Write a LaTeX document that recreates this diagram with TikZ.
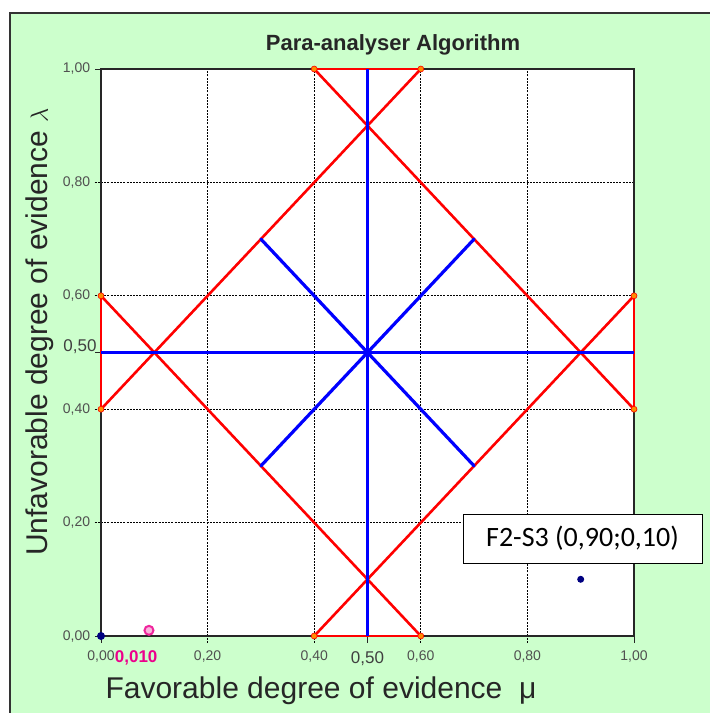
\documentclass[tikz,border=0pt]{standalone}
\usepackage{fontspec}
\setmainfont{Liberation Sans}
\newfontfamily\calibri{Carlito}
\definecolor{bggreen}{RGB}{204,255,204}
\definecolor{ticktxt}{RGB}{80,80,80}
\definecolor{navy}{RGB}{0,0,128}
\definecolor{orangedot}{RGB}{255,140,0}
\tikzset{
  gridline/.style={black, line width=0.9pt, dash pattern=on 2pt off 1.2pt},
  redline/.style={red, line width=2.6pt},
  blueline/.style={blue, line width=2.4pt},
  bluediag/.style={blue, line width=3.2pt},
  enddot/.style={circle, fill=orangedot, draw=red, line width=0.6pt, inner sep=0pt, minimum size=6pt},
  ticklab/.style={font=\fontsize{14}{14}\selectfont, text=ticktxt, inner sep=0pt},
  bigtick/.style={font=\fontsize{17}{17}\selectfont, text=black!75, inner sep=0pt},
  axlab/.style={font=\fontsize{30}{30}\selectfont, text=black!85, inner sep=0pt},
}
\begin{document}
\begin{tikzpicture}[x=1pt, y=-1pt]
\useasboundingbox (0,0) rectangle (710,713);
\fill[white] (0,0) rectangle (710,713);
\fill[bggreen] (9,12) rectangle (710,713);
\draw[black!80, line width=2pt] (10,713) -- (10,13) -- (710,13);
% title
\node[font=\bfseries\fontsize{22}{22}\selectfont, text=black!85] (title) at (393,45) {Para-analyser Algorithm};
\begin{scope}[shift={(101,636)}, x=533pt, y=567pt]
  \fill[white] (0,0) rectangle (1,1);
  % grid
  \foreach \v in {0.2,0.4,0.6,0.8} {
    \draw[gridline] (\v,-0.012) -- (\v,1);
    \draw[gridline] (-0.012,\v) -- (1,\v);
  }
  \draw[black!85, line width=1pt] (0.5,0) -- (0.5,-0.012) (1,0) -- (1,-0.012) (0,0.5) -- (-0.012,0.5) (0,1) -- (-0.012,1) (0,0) -- (-0.012,0) (0,0) -- (0,-0.012);
  \draw[black!85, line width=2.4pt] (0,0) rectangle (1,1);
  % key points
  \coordinate (T4) at (0.4,1);  \coordinate (T6) at (0.6,1);
  \coordinate (B4) at (0.4,0);  \coordinate (B6) at (0.6,0);
  \coordinate (L4) at (0,0.4);  \coordinate (L6) at (0,0.6);
  \coordinate (R4) at (1,0.4);  \coordinate (R6) at (1,0.6);
  \coordinate (T5) at (0.5,1);  \coordinate (B5) at (0.5,0);
  \coordinate (L5) at (0,0.5);  \coordinate (R5) at (1,0.5);
  \coordinate (C)  at (0.5,0.5);
  \coordinate (Q1) at (0.3,0.7); \coordinate (Q2) at (0.7,0.7);
  \coordinate (Q3) at (0.3,0.3); \coordinate (Q4) at (0.7,0.3);
  % red lines
  \draw[redline] (T4) -- (R4);
  \draw[redline] (T6) -- (L4);
  \draw[redline] (L6) -- (B6);
  \draw[redline] (B4) -- (R6);
  \draw[redline] (T4) -- (T6);
  \draw[redline] (B4) -- (B6);
  \draw[redline] (L4) -- (L6);
  \draw[redline] (R4) -- (R6);
  % blue lines
  \draw[blueline] (B5) -- (T5);
  \draw[blueline] (L5) -- (R5);
  \draw[bluediag, line cap=round] (Q1) -- (Q4);
  \draw[bluediag, line cap=round] (Q3) -- (Q2);
  % dots
  \foreach \p in {T4,T6,B4,B6,L4,L6,R4,R6} { \node[enddot] at (\p) {}; }
  \node[circle, fill=navy, inner sep=0pt, minimum size=8pt] (origin) at (0,0) {};
  \node[circle, fill=navy, inner sep=0pt, minimum size=7pt] (f2s3) at (0.9,0.1) {};
  \node[circle, draw=magenta!85, fill=magenta!30, line width=2pt, inner sep=0pt, minimum size=9pt] (mag) at (0.09,0.01) {};
  % x tick labels
  \node[ticklab] (x0) at (0,-0.037) {0,00};
  \node[ticklab] (x2) at (0.2,-0.037) {0,20};
  \node[ticklab] (x4) at (0.4,-0.037) {0,40};
  \node[bigtick] (x5) at (0.5,-0.040) {0,50};
  \node[ticklab] (x6) at (0.6,-0.037) {0,60};
  \node[ticklab] (x8) at (0.8,-0.037) {0,80};
  \node[ticklab] (x10) at (1,-0.037) {1,00};
  \node[font=\bfseries\fontsize{17}{17}\selectfont, text=magenta, inner sep=0pt] (magl) at (0.066,-0.038) {0,010};
  % y tick labels
  \node[ticklab, anchor=east] (y0) at (-0.02,0) {0,00};
  \node[ticklab, anchor=east] (y2) at (-0.02,0.2) {0,20};
  \node[ticklab, anchor=east] (y4) at (-0.02,0.4) {0,40};
  \node[bigtick, anchor=east] (y5) at (-0.008,0.51) {0,50};
  \node[ticklab, anchor=east] (y6) at (-0.02,0.6) {0,60};
  \node[ticklab, anchor=east] (y8) at (-0.02,0.8) {0,80};
  \node[ticklab, anchor=east] (y10) at (-0.02,1) {1,00};
\end{scope}
% annotation box
\node[draw=black, line width=1pt, fill=white, minimum width=239pt, minimum height=49pt, inner sep=0pt, font=\calibri\fontsize{28}{28}\selectfont] (box) at (582.5,538.5) {F2-S3 (0,90;0,10)};
% axis labels
\node[axlab] (xl) at (321,691) {Favorable degree of evidence \ μ};
\node[axlab, rotate=90] (yl) at (40,332) {Unfavorable degree of evidence $\lambda$};
\end{tikzpicture}
\end{document}
